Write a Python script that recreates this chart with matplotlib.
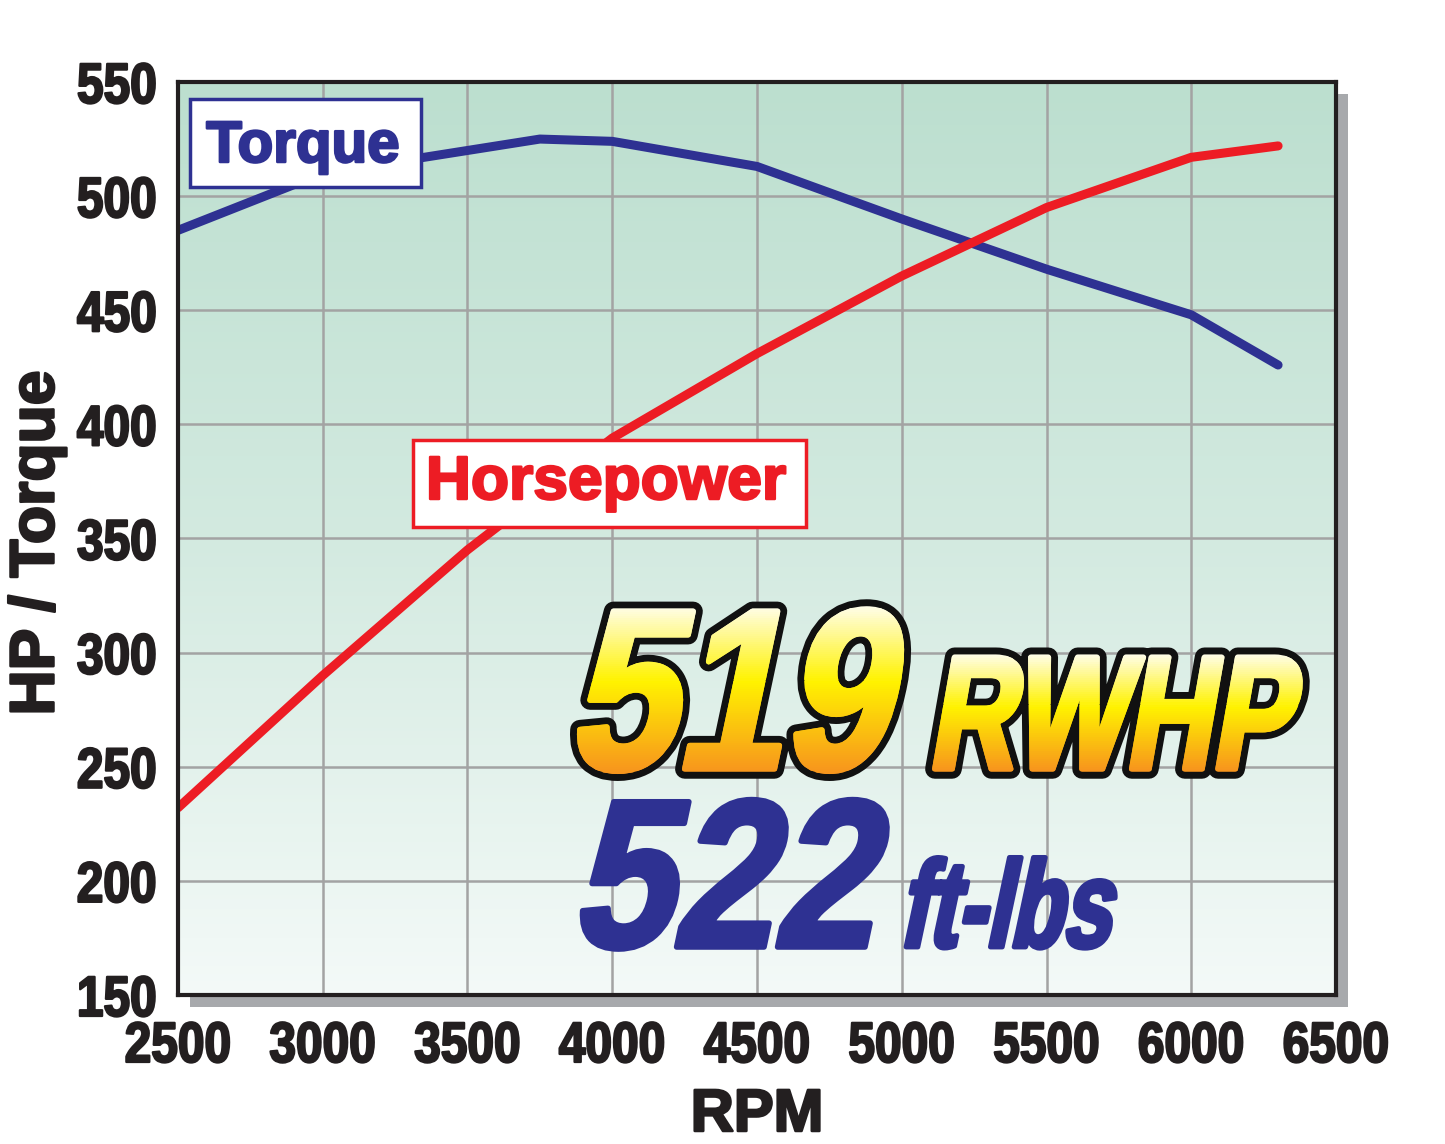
import numpy as np
import matplotlib
matplotlib.use("Agg")
import matplotlib.pyplot as plt
from matplotlib.patches import Rectangle
from matplotlib.transforms import Affine2D, Bbox
from matplotlib.patheffects import AbstractPathEffect
from matplotlib.colors import LinearSegmentedColormap, to_rgba

# ---------------- data ----------------
rpm_torque = [2500, 3000, 3500, 3750, 4000, 4500, 5000, 5500, 6000, 6300]
torque = [485, 510, 520, 525, 524, 513, 490, 468, 448, 426]
rpm_hp = [2500, 3000, 3500, 4000, 4500, 5000, 5500, 6000, 6300]
horsepower = [232, 290, 345, 394, 431, 465, 495, 517, 522]
x_ticks = [2500, 3000, 3500, 4000, 4500, 5000, 5500, 6000, 6500]
y_ticks = [150, 200, 250, 300, 350, 400, 450, 500, 550]
peak_hp_text = "519"
peak_hp_unit = "RWHP"
peak_tq_text = "522"
peak_tq_unit = "ft-lbs"

BLUE = "#2E3192"
RED = "#ED1C24"
INK = "#231F20"
FONT = "Liberation Sans"


class Warp(AbstractPathEffect):
    """Condense / slant / embolden glyph outlines, optional outline and gradient fill."""

    def __init__(self, sx=1.0, skew=0.0, anchor="left", stops=None, grow=0.0,
                 outline=None, outline_lw=0.0):
        super().__init__()
        self.sx = sx
        self.skew = skew
        self.anchor = anchor
        self.grow = grow
        self.outline = outline
        self.outline_lw = outline_lw
        self.cmap = LinearSegmentedColormap.from_list("g", stops) if stops else None

    def draw_path(self, renderer, gc, tpath, affine, rgbFace=None):
        e = affine.transform_path(tpath).get_extents()
        ax_x = {"left": e.x0, "center": 0.5 * (e.x0 + e.x1), "right": e.x1}[self.anchor]
        warp = (Affine2D().translate(-ax_x, -e.y0).scale(self.sx, 1.0)
                .skew_deg(self.skew, 0).translate(ax_x, e.y0))
        aff = affine + warp
        if self.outline is not None:
            g = renderer.new_gc()
            g.copy_properties(gc)
            g.set_foreground(self.outline)
            g.set_linewidth(self.grow + self.outline_lw)
            g.set_joinstyle("round")
            renderer.draw_path(g, tpath, aff, to_rgba(self.outline))
            g.restore()
        if self.cmap is None:
            g = renderer.new_gc()
            g.copy_properties(gc)
            g.set_linewidth(self.grow)
            g.set_joinstyle("round")
            if self.grow > 0:
                g.set_foreground(rgbFace)
            renderer.draw_path(g, tpath, aff, rgbFace)
            g.restore()
        else:
            e2 = aff.transform_path(tpath).get_extents()
            gp = renderer.points_to_pixels(self.grow) / 2.0
            y0, y1 = e2.y0 - gp, e2.y1 + gp
            h = y1 - y0
            n = max(2, int(h / 2))
            for i in range(n):
                y_top = y1 - h * i / n
                y_bot = y1 - h * (i + 1) / n
                bb = Bbox.from_extents(e2.x0 - 20, y_bot - 1.5, e2.x1 + 20, y_top + 0.5)
                c = self.cmap((i + 0.5) / n)
                g = renderer.new_gc()
                g.copy_properties(gc)
                g.set_linewidth(self.grow)
                g.set_joinstyle("round")
                g.set_foreground(c)
                g.set_clip_rectangle(bb)
                renderer.draw_path(g, tpath, aff, c)
                g.restore()


W, H = 1445, 1144
L, R, T, B = 178, 1336, 82, 995
fig = plt.figure(figsize=(W / 100, H / 100), dpi=100)
fig.patch.set_facecolor("white")

# drop shadow
fig.add_artist(Rectangle(((L + 12) / W, 1 - (B + 12) / H), (R - L) / W, (B - T) / H,
                         transform=fig.transFigure, facecolor="#A7A9AC",
                         edgecolor="none", zorder=-1))

ax = fig.add_axes([L / W, 1 - B / H, (R - L) / W, (B - T) / H])
grad = np.linspace(0, 1, 256).reshape(-1, 1)
bg = LinearSegmentedColormap.from_list("bg", ["#BCDFCF", "#D3EAE0", "#F4FAF8"])
ax.imshow(grad, cmap=bg, aspect="auto", extent=[0, 1, 0, 1],
          transform=ax.transAxes, origin="upper", zorder=0)

ax.plot(rpm_torque, torque, color=BLUE, lw=6.5, solid_capstyle="round",
        solid_joinstyle="round", zorder=3)
ax.plot(rpm_hp, horsepower, color=RED, lw=6.5, solid_capstyle="round",
        solid_joinstyle="round", zorder=3)

ax.set_xlim(2500, 6500)
ax.set_ylim(150, 550)
ax.set_xticks(x_ticks, labels=[str(v) for v in x_ticks], fontsize=41,
              fontweight="bold", fontfamily=FONT)
ax.set_yticks(y_ticks, labels=[str(v) for v in y_ticks], fontsize=41,
              fontweight="bold", fontfamily=FONT)
ax.tick_params(axis="both", length=0, colors=INK)
ax.tick_params(axis="x", pad=18)
ax.tick_params(axis="y", pad=15)
for lbl in ax.get_xticklabels():
    lbl.set_path_effects([Warp(sx=0.84, anchor="center", grow=1.6)])
for lbl in ax.get_yticklabels():
    lbl.set_path_effects([Warp(sx=0.84, anchor="right", grow=1.6)])
ax.grid(True, color="#A3A3A3", lw=1.8)
ax.set_axisbelow(True)
for s in ax.spines.values():
    s.set_linewidth(3)
    s.set_color(INK)
    s.set_zorder(5)

fig.text(37 / W, 1 - 543 / H, "HP / Torque", rotation=90, ha="center", va="center",
         fontsize=45, fontweight="bold", family=FONT, color=INK,
         path_effects=[Warp(grow=1.8)])
fig.text(757 / W, 1 - 1131 / H, "RPM", ha="center", va="baseline",
         fontsize=43, fontweight="bold", family=FONT, color=INK,
         path_effects=[Warp(anchor="center", grow=1.8)])

# overlay in pixel coordinates for annotations
ov = fig.add_axes([0, 0, 1, 1])
ov.set_xlim(0, W)
ov.set_ylim(H, 0)
ov.axis("off")

ov.add_patch(Rectangle((190, 99), 231, 88, facecolor="white", edgecolor=BLUE, lw=2.5))
ov.text(303, 162, "Torque", ha="center", va="baseline", fontsize=42,
        fontweight="bold", family=FONT, color=BLUE,
        path_effects=[Warp(anchor="center", grow=1.8)])
ov.add_patch(Rectangle((413, 440), 393, 87, facecolor="white", edgecolor=RED, lw=2.5))
ov.text(606, 499, "Horsepower", ha="center", va="baseline", fontsize=44,
        fontweight="bold", family=FONT, color=RED,
        path_effects=[Warp(sx=1.02, anchor="center", grow=1.8)])

gold = [(0.0, "#FFFDE9"), (0.45, "#FFF200"), (1.0, "#F7941D")]
ov.text(564, 769, peak_hp_text, ha="left", va="baseline", fontsize=165,
        fontweight="bold", family=FONT, color="#FFF200",
        path_effects=[Warp(sx=0.84, skew=12, stops=gold, grow=4,
                           outline="#111111", outline_lw=10)])
ov.text(924, 769, peak_hp_unit, ha="left", va="baseline", fontsize=117,
        fontweight="bold", family=FONT, color="#FFF200",
        path_effects=[Warp(sx=0.735, skew=10, stops=gold, grow=4,
                           outline="#111111", outline_lw=10)])
ov.text(568, 947, peak_tq_text, ha="left", va="baseline", fontsize=152,
        fontweight="bold", family=FONT, color=BLUE,
        path_effects=[Warp(sx=0.86, skew=12, grow=4)])
ov.text(897, 947, peak_tq_unit, ha="left", va="baseline", fontsize=89,
        fontweight="bold", family=FONT, color=BLUE,
        path_effects=[Warp(sx=0.70, skew=12, grow=3.5)])

fig.savefig("out.png", dpi=100)
